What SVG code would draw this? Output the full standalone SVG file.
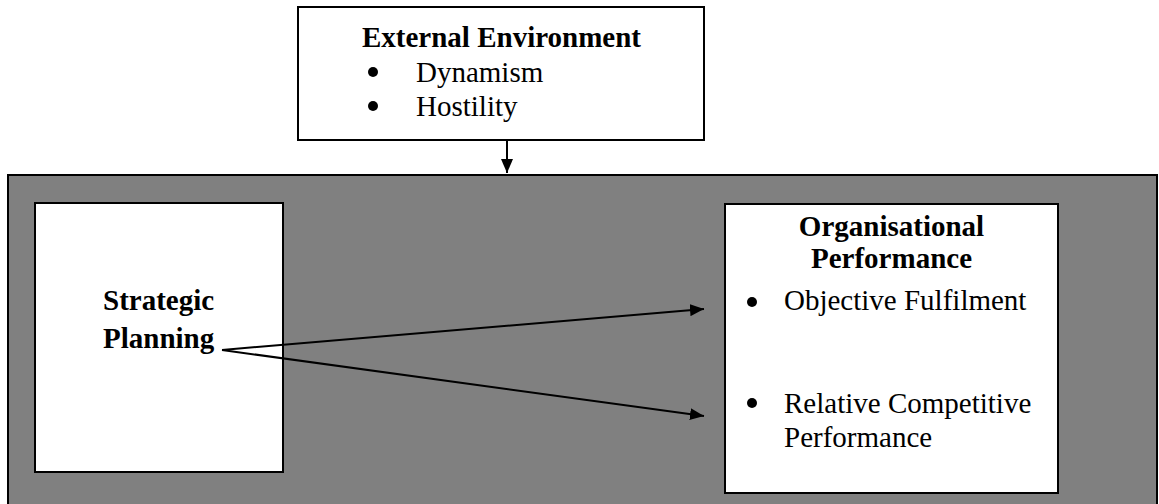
<svg xmlns="http://www.w3.org/2000/svg" width="1159" height="504" viewBox="0 0 1159 504">
<style>
.box{fill:#fff;stroke:#000;stroke-width:2}
.b{font-family:"Liberation Serif","Times New Roman",serif;font-size:29px;font-weight:bold;fill:#000}
.r{font-family:"Liberation Serif","Times New Roman",serif;font-size:29px;fill:#000}
.dot{fill:#000}
.c{stroke:#000;stroke-width:2;fill:none}
</style>
<defs>
<marker id="ah" viewBox="0 0 14 12" refX="14" refY="6" markerWidth="14" markerHeight="12" markerUnits="userSpaceOnUse" orient="auto">
<path d="M0,0 L14,6 L0,12 z" fill="#000"/>
</marker>
</defs>
<rect id="context" x="8" y="175" width="1149" height="340" fill="#808080" stroke="#000" stroke-width="2"/>
<g id="external">
<rect class="box" x="298" y="7" width="406" height="133"/>
<text class="b" x="362" y="47">External Environment</text>
<circle class="dot" cx="373" cy="72" r="5"/>
<text class="r" x="416" y="82">Dynamism</text>
<circle class="dot" cx="373" cy="106" r="5"/>
<text class="r" x="416" y="116">Hostility</text>
</g>
<g id="strategic">
<rect class="box" x="35" y="203" width="248" height="269"/>
<text class="b" x="103" y="310">Strategic</text>
<text class="b" x="103" y="348">Planning</text>
</g>
<g id="performance">
<rect class="box" x="725" y="204" width="333" height="289"/>
<text class="b" x="891.5" y="236" text-anchor="middle">Organisational</text>
<text class="b" x="891.5" y="268" text-anchor="middle">Performance</text>
<circle class="dot" cx="752" cy="302" r="5"/>
<text class="r" x="784" y="310">Objective Fulfilment</text>
<circle class="dot" cx="752" cy="403" r="5"/>
<text class="r" x="784" y="413">Relative Competitive</text>
<text class="r" x="784" y="447">Performance</text>
</g>
<g id="connectors">
<line class="c" x1="222" y1="350" x2="704" y2="309" marker-end="url(#ah)"/>
<line class="c" x1="222" y1="350" x2="704" y2="416" marker-end="url(#ah)"/>
<line class="c" x1="507" y1="140" x2="507" y2="173" marker-end="url(#ah)"/>
</g>
</svg>
